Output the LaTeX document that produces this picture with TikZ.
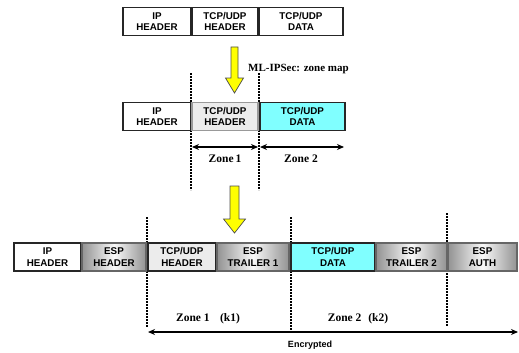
\documentclass[tikz,border=0pt]{standalone}
\usepackage{fontspec}
\setmainfont{Liberation Serif}
\setsansfont{Liberation Sans}
\usetikzlibrary{arrows.meta}
\definecolor{cyanfill}{RGB}{128,255,255}
\definecolor{yellowfill}{RGB}{255,255,0}
\begin{document}
\begin{tikzpicture}[x=1pt,y=-1pt,
  box/.style={draw=black!85, line width=1.5pt, minimum height=28pt, inner sep=0pt,
    align=center, font=\sffamily\bfseries\fontsize{9.8}{11.5}\selectfont},
  whitebox/.style={box, fill=white},
  graybox/.style={box, draw=black!60, left color=gray!85, right color=gray!85, middle color=gray!5},
  dotbox/.style={box, fill=gray!15},
  cyanbox/.style={box, fill=cyanfill},
  divider/.style={line width=2.4pt, dash pattern=on 1.8pt off 1.2pt},
  zonearrow/.style={{Stealth[length=7pt,width=6pt]}-{Stealth[length=7pt,width=6pt]}, line width=1.2pt},
  yarrow/.style={fill=yellowfill, draw=black!70, line width=0.7pt},
  zonelabel/.style={font=\rmfamily\bfseries\fontsize{11.5}{13}\selectfont, inner sep=0pt},
  enclabel/.style={font=\sffamily\bfseries\fontsize{9}{11}\selectfont, inner sep=0pt}
]
\useasboundingbox (0,0) rectangle (519,353);

% top row
\node[whitebox, minimum width=68pt] (ip1)   at (157,21.5) {IP\\HEADER};
\node[whitebox, minimum width=66pt] (tcph1) at (225,21.5) {TCP/UDP\\HEADER};
\node[whitebox, minimum width=84pt] (tcpd1) at (301,21.5) {TCP/UDP\\DATA};

% yellow arrow 1
\draw[yarrow] (231,47) -- (238,47) -- (238,78) -- (243.5,78) -- (234.5,93)
  -- (225.5,78) -- (231,78) -- cycle;
\node[zonelabel, anchor=west, font=\rmfamily\bfseries\fontsize{11}{13}\selectfont] (zmap) at (248,69) {ML-IPSec: zone map};

% middle dividers
\coordinate (d1t) at (191,73); \coordinate (d1b) at (191,190);
\coordinate (d2t) at (259,73); \coordinate (d2b) at (259,190);
\draw[divider] (d1t) -- (d1b);
\draw[divider] (d2t) -- (d2b);

% middle row
\node[whitebox, minimum width=68pt] (ip2)   at (157,116.5) {IP\\HEADER};
\node[dotbox,   minimum width=66pt, draw=gray!80] (tcph2) at (225,116.5) {TCP/UDP\\HEADER};
\node[cyanbox,  minimum width=85pt] (tcpd2) at (302.5,116.5) {TCP/UDP\\DATA};

% zone arrows
\coordinate (z1l) at (192,147); \coordinate (z1r) at (258,147);
\coordinate (z2l) at (260,147); \coordinate (z2r) at (344,147);
\draw[zonearrow] (z1l) -- (z1r);
\draw[zonearrow] (z2l) -- (z2r);
\node[zonelabel] (zl1) at (225,159) {Zone\,1};
\node[zonelabel] (zl2) at (301,159) {Zone 2};

% yellow arrow 2
\draw[yarrow] (230,186) -- (239,186) -- (239,219) -- (245.5,219) -- (234.5,233)
  -- (223.5,219) -- (230,219) -- cycle;

% bottom dividers
\coordinate (e1t) at (147,217); \coordinate (e1b) at (147,327);
\coordinate (e2t) at (291,217); \coordinate (e2b) at (291,331);
\coordinate (e3t) at (447,213); \coordinate (e3b) at (447,326);
\draw[divider] (e1t) -- (e1b);
\draw[divider] (e2t) -- (e2b);
\draw[divider] (e3t) -- (e3b);

% bottom row
\node[whitebox, minimum width=67pt] (ip3)    at (47.5,257) {IP\\HEADER};
\node[graybox,  minimum width=64pt] (esph)   at (114,257) {ESP\\HEADER};
\node[dotbox,   minimum width=68pt] (tcph3)  at (182,257) {TCP/UDP\\HEADER};
\node[graybox,  minimum width=72pt] (espt1)  at (253,257) {ESP\\TRAILER 1};
\node[cyanbox,  minimum width=84pt] (tcpd3)  at (333,257) {TCP/UDP\\DATA};
\node[graybox,  minimum width=71pt] (espt2)  at (411.5,257) {ESP\\TRAILER 2};
\node[graybox,  minimum width=69pt] (espa)   at (482.5,257) {ESP\\AUTH};

% zone labels
\node[zonelabel] (zk1) at (208,319) {Zone 1\hspace{0.9em}(k1)};
\node[zonelabel] (zk2) at (358,319) {Zone 2\hspace{0.6em}(k2)};

% encrypted
\coordinate (encl) at (148,332); \coordinate (encr) at (518,332);
\draw[zonearrow] (encl) -- (encr);
\node[enclabel] (enc) at (310,345) {Encrypted};
\end{tikzpicture}
\end{document}
